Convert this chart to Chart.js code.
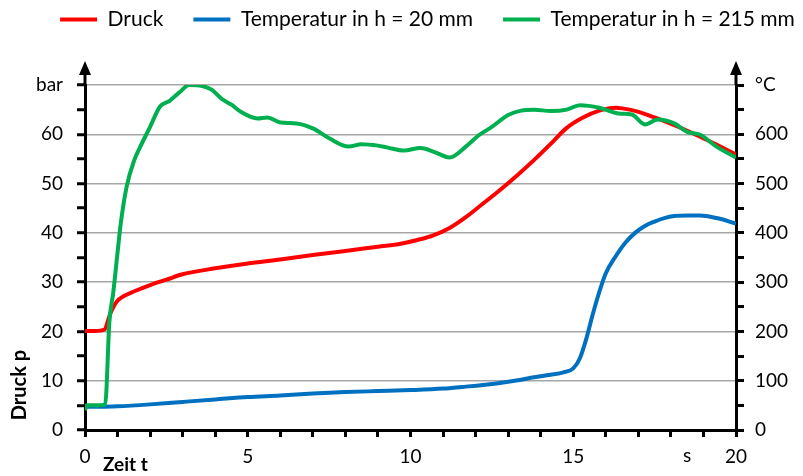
<!DOCTYPE html>
<html>
<head>
<meta charset="utf-8">
<script src="https://cdn.jsdelivr.net/npm/chart.js@4.4.1/dist/chart.umd.min.js"></script>
<style>
  html, body { margin: 0; padding: 0; background: #fff; }
  #wrap { width: 803px; height: 476px; }
</style>
</head>
<body>
<div id="wrap"><canvas id="chart"></canvas></div>
<script>
// Druck p in bar (linke Achse)
const tDruck = [0, 0.3, 0.6, 0.77, 0.97, 1.2, 1.5, 2.0, 2.5, 3.0, 4.0, 5.0, 6.0, 7.0, 8.0, 9.0, 9.7, 10.3, 10.7, 11.2, 11.7, 12.2, 12.75, 13.3, 13.8, 14.3, 14.8, 15.3, 15.8, 16.3, 16.8, 17.3, 17.9, 18.4, 18.9, 19.4, 20];
const druck = [20.1, 20.1, 20.4, 23.5, 26.0, 27.2, 28.1, 29.4, 30.5, 31.6, 32.8, 33.8, 34.6, 35.5, 36.3, 37.2, 37.8, 38.7, 39.5, 41.0, 43.2, 45.8, 48.7, 51.8, 54.8, 58.0, 61.3, 63.4, 64.8, 65.4, 64.9, 63.9, 62.4, 61.0, 59.5, 57.9, 55.9];

// Temperatur in h = 20 mm, °C (rechte Achse)
const tTemp20 = [0, 0.5, 1, 2, 3, 4, 5, 6, 7, 8, 9, 10, 11, 11.7, 12.3, 12.8, 13.3, 13.8, 14.3, 14.7, 15.0, 15.2, 15.4, 15.6, 15.8, 16.0, 16.3, 16.6, 16.9, 17.2, 17.5, 17.8, 18.1, 18.5, 18.9, 19.4, 20];
const temp20 = [47, 47, 48, 52, 57, 62, 67, 70, 74, 77, 79, 81, 84, 88, 92, 96, 101, 107, 112, 117, 125, 145, 185, 235, 280, 318, 352, 380, 400, 414, 423, 430, 434, 435, 435, 430, 419];

// Temperatur in h = 215 mm, °C (rechte Achse)
const tTemp215 = [0, 0.05, 0.3, 0.62, 0.75, 0.87, 1.0, 1.1, 1.28, 1.5, 1.7, 2.0, 2.3, 2.6, 2.9, 3.2, 3.6, 3.9, 4.2, 4.5, 4.8, 5.3, 5.6, 6.0, 6.5, 7.0, 7.5, 8.1, 8.5, 9.0, 9.3, 9.8, 10.3, 10.7, 11.2, 11.7, 12.1, 12.5, 13.0, 13.4, 13.8, 14.3, 14.8, 15.2, 15.8, 16.4, 16.8, 17.2, 17.6, 18.1, 18.5, 18.9, 19.4, 20];
const temp215 = [40, 50, 50, 52, 220, 280, 360, 420, 494, 545, 575, 615, 656, 668, 685, 700, 698, 690, 672, 660, 645, 632, 634, 624, 622, 612, 592, 575, 580, 577, 573, 567, 572, 565, 553, 575, 598, 615, 639, 648, 650, 647, 650, 659, 654, 642, 640, 620, 630, 622, 605, 599, 575, 553];

const labels = ["Druck", "Temperatur in h = 20 mm", "Temperatur in h = 215 mm"];

function pts(xs, ys) {
  return xs.map((x, i) => ({ x: x, y: ys[i] }));
}

const tickFont = { family: "Lato", size: 19 };

const extras = {
  id: "extras",
  beforeInit(chart) {
    const lg = chart.legend;
    const fit = lg.fit;
    lg.fit = function () {
      fit.call(this);
      this.height = 85;
    };
    const draw = lg.draw;
    lg.draw = function () {
      chart.ctx.save();
      chart.ctx.translate(26, -21);
      draw.call(this);
      chart.ctx.restore();
    };
  },
  afterDraw(chart) {
    const c = chart.ctx;
    const a = chart.chartArea;
    const xs = chart.scales.x;
    c.save();
    c.strokeStyle = "black";
    c.fillStyle = "black";
    c.lineWidth = 3;
    [a.left, a.right].forEach((x) => {
      c.beginPath();
      c.moveTo(x, a.top);
      c.lineTo(x, 72);
      c.stroke();
      c.beginPath();
      c.moveTo(x, 61);
      c.lineTo(x - 6, 75);
      c.lineTo(x + 6, 75);
      c.closePath();
      c.fill();
    });
    c.textBaseline = "middle";
    c.font = "19px Lato";
    c.textAlign = "center";
    c.fillText("s", xs.getPixelForValue(18.5), 456);
    c.font = "bold 19px Lato";
    c.textAlign = "left";
    c.fillText("Zeit t", xs.getPixelForValue(0.55), 465);
    c.translate(20, 385);
    c.rotate(-Math.PI / 2);
    c.textAlign = "center";
    c.font = "bold 20px Lato";
    c.fillText("Druck p", 0, 0);
    c.restore();
  },
};

new Chart(document.getElementById("chart"), {
  type: "line",
  data: {
    datasets: [
      {
        label: labels[0],
        data: pts(tDruck, druck),
        yAxisID: "y",
        borderColor: "#ff0000",
        backgroundColor: "#ff0000",
        borderWidth: 4,
        pointRadius: 0,
        cubicInterpolationMode: "monotone",
        order: 2,
      },
      {
        label: labels[1],
        data: pts(tTemp20, temp20),
        yAxisID: "y1",
        borderColor: "#0070c0",
        backgroundColor: "#0070c0",
        borderWidth: 4,
        pointRadius: 0,
        cubicInterpolationMode: "monotone",
        order: 1,
      },
      {
        label: labels[2],
        data: pts(tTemp215, temp215),
        yAxisID: "y1",
        borderColor: "#00b050",
        backgroundColor: "#00b050",
        borderWidth: 4,
        pointRadius: 0,
        cubicInterpolationMode: "monotone",
        order: 0,
      },
    ],
  },
  options: {
    responsive: true,
    maintainAspectRatio: false,
    animation: false,
    layout: { padding: 0 },
    plugins: {
      tooltip: { enabled: false },
      legend: {
        position: "top",
        labels: {
          usePointStyle: true,
          pointStyle: "line",
          pointStyleWidth: 37,
          color: "black",
          padding: 30,
          sort: (a, b) => a.datasetIndex - b.datasetIndex,
          font: { family: "Lato", size: 21 },
        },
      },
    },
    scales: {
      x: {
        type: "linear",
        min: 0,
        max: 20,
        afterFit(s) { s.height = 46; },
        border: { color: "black", width: 3 },
        grid: { drawOnChartArea: false, color: "black", tickLength: 7, lineWidth: 3 },
        ticks: {
          stepSize: 1,
          autoSkip: false,
          maxRotation: 0,
          padding: 8,
          color: "black",
          font: tickFont,
          callback: (v) => (v % 5 === 0 ? v : ""),
        },
      },
      y: {
        position: "left",
        min: 0,
        max: 70,
        afterFit(s) { s.width = 85; },
        border: { color: "black", width: 3 },
        grid: {
          color: (ctx) => (ctx.tick.value % 10 === 0 ? "#a6a6a6" : "rgba(0,0,0,0)"),
          lineWidth: 1.5,
          tickColor: "black",
          tickWidth: 3,
          tickLength: 8,
        },
        ticks: {
          stepSize: 5,
          autoSkip: false,
          padding: 14,
          color: "black",
          font: tickFont,
          callback: (v) => (v === 70 ? "bar" : v % 10 === 0 ? v : ""),
        },
      },
      y1: {
        position: "right",
        min: 0,
        max: 700,
        afterFit(s) { s.width = 67; },
        border: { color: "black", width: 3 },
        grid: { drawOnChartArea: false, color: "black", tickWidth: 3, tickLength: 8 },
        ticks: {
          stepSize: 50,
          autoSkip: false,
          padding: 11,
          color: "black",
          font: tickFont,
          callback: (v) => (v === 700 ? "°C" : v % 100 === 0 ? v : ""),
        },
      },
    },
  },
  plugins: [extras],
});
</script>
</body>
</html>
